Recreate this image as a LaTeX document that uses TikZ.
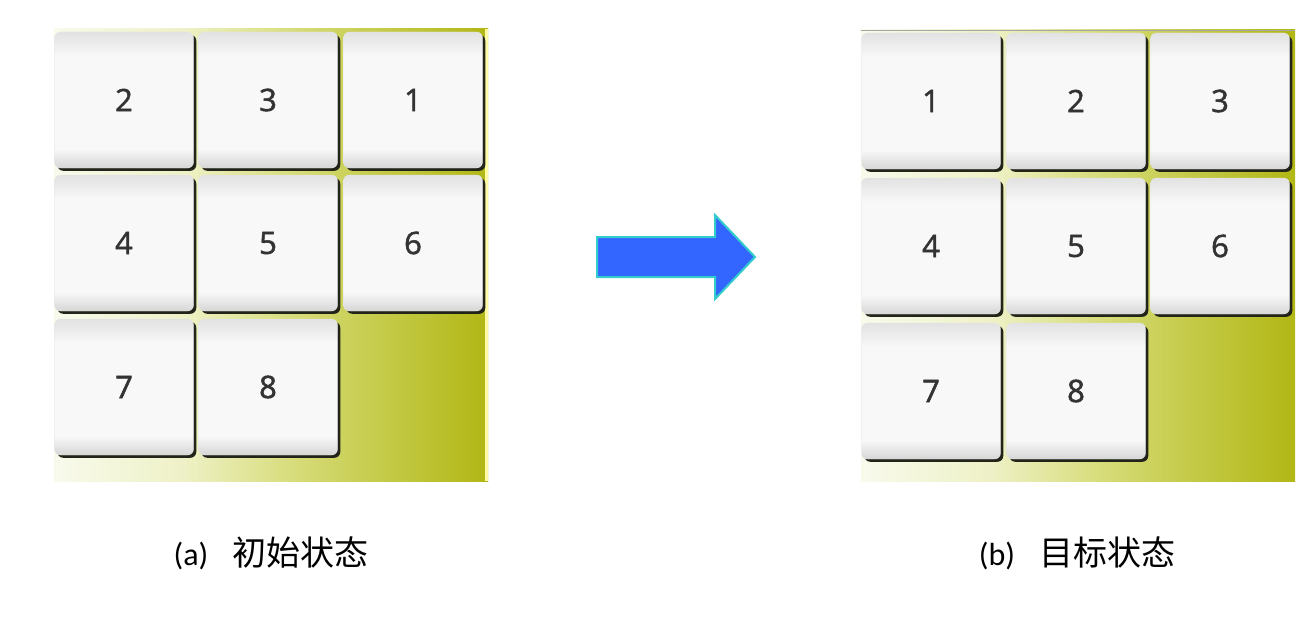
\documentclass[tikz,border=0pt]{standalone}
\usepackage{fontspec}
\setmainfont{Carlito}
\newfontfamily\cjk{Noto Sans CJK SC}
\newfontfamily\digitfont[FakeBold=1.6]{Open Sans}
\usetikzlibrary{shadows}
\definecolor{bgA}{HTML}{F8FAEC}
\definecolor{bgB}{HTML}{EEF1C6}
\definecolor{bgC}{HTML}{D8DD7E}
\definecolor{bgD}{HTML}{C9CF55}
\definecolor{bgE}{HTML}{B1B714}
\definecolor{tileTop}{HTML}{E2E2E2}
\definecolor{tileMid}{HTML}{F8F8F8}
\definecolor{tileBot}{HTML}{D6D6D6}
\definecolor{arrowFill}{HTML}{3366FF}
\definecolor{arrowEdge}{HTML}{33CCCC}
\definecolor{edgeDark}{HTML}{22241A}
\pgfdeclarehorizontalshading{boardshade}{100bp}{color(0bp)=(bgA); color(25bp)=(bgA); color(40bp)=(bgB); color(52bp)=(bgC); color(60bp)=(bgD); color(75bp)=(bgE); color(100bp)=(bgE)}
\pgfdeclareverticalshading{tileshade}{100bp}{color(0bp)=(tileBot); color(25bp)=(tileBot); color(32bp)=(tileMid); color(66bp)=(tileMid); color(75bp)=(tileTop); color(100bp)=(tileTop)}
\tikzset{
  board/.style={shading=boardshade, draw=none},
  tile/.style={rounded corners=6pt, minimum width=139pt, minimum height=136pt, inner sep=0pt,
    shading=tileshade, draw=black!10, line width=0.4pt,
    font=\digitfont\fontsize{31}{31}\selectfont, text=black!80,
    drop shadow={shadow xshift=2.8pt, shadow yshift=-2.8pt, opacity=1, fill=edgeDark}},
  caption/.style={font=\fontsize{32}{36}\selectfont, text=black, inner sep=0pt},
  bigarrow/.style={fill=arrowFill, draw=arrowEdge, line width=2pt, line join=miter}
}
\begin{document}
\begin{tikzpicture}[x=1pt,y=-1pt]
\useasboundingbox (0,0) rectangle (1313,626);
% boards
\fill[board] (54,29) rectangle (488,481);
\fill[board] (861,30) rectangle (1295,481);
\fill[yellow!35!white] (485,29) rectangle (488,481);
\draw[black!35, line width=0.8pt] (861,30) -- (1295,30);
% left board tiles (initial state)
\node[tile] (a2) at (124,100) {2};
\node[tile] (a3) at (268,100) {3};
\node[tile] (a1) at (413,100) {1};
\node[tile] (a4) at (124,243) {4};
\node[tile] (a5) at (268,243) {5};
\node[tile] (a6) at (413,243) {6};
\node[tile] (a7) at (124,387) {7};
\node[tile] (a8) at (268,387) {8};
% right board tiles (goal state)
\node[tile] (b1) at (931,101) {1};
\node[tile] (b2) at (1076,101) {2};
\node[tile] (b3) at (1220,101) {3};
\node[tile] (b4) at (931,246) {4};
\node[tile] (b5) at (1076,246) {5};
\node[tile] (b6) at (1220,246) {6};
\node[tile] (b7) at (931,391) {7};
\node[tile] (b8) at (1076,391) {8};
% arrow
\draw[bigarrow] (597,237) -- (715,237) -- (715,215) -- (755,257) -- (715,299) -- (715,277) -- (597,277) -- cycle;
% captions
\node[caption] (capa) at (271,553) {(a)\hspace{24pt}{\cjk\fontsize{34}{36}\selectfont 初始状态}};
\node[caption] (capb) at (1077,553) {(b)\hspace{24pt}{\cjk\fontsize{34}{36}\selectfont 目标状态}};
\end{tikzpicture}
\end{document}
